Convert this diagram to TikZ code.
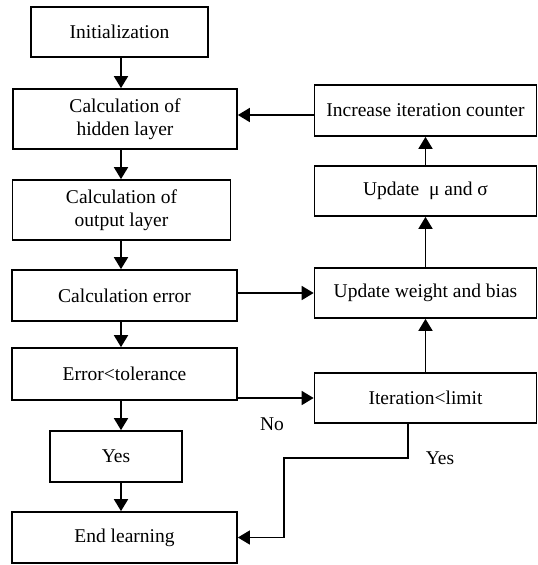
\documentclass[tikz,border=0pt]{standalone}
\usepackage{fontspec}
\setmainfont{Liberation Serif}
\usepackage{tikz}
\usetikzlibrary{arrows.meta,positioning,calc}

\tikzset{
  stepbox/.style={draw, line width=1.7pt, rectangle, align=center, inner sep=2pt},
  arr/.style={line width=1.7pt, -{Triangle[length=12pt,width=14pt]}},
  lbl/.style={inner sep=0pt}
}

\begin{document}
\begin{tikzpicture}[x=1pt,y=-1pt,font=\fontsize{19.5}{23}\selectfont]
  \useasboundingbox (0,0) rectangle (538,565);

  % Left column
  \node[stepbox, minimum width=177pt, minimum height=50pt] (init) at (119.5,32) {Initialization};
  \node[stepbox, minimum width=224pt, minimum height=60pt] (hidden) at (125,119) {Calculation of\\hidden layer};
  \node[stepbox, minimum width=218pt, minimum height=60pt] (output) at (121.5,210) {Calculation of\\output layer};
  \node[stepbox, minimum width=225pt, minimum height=51pt] (calcerr) at (124.5,295.5) {Calculation error};
  \node[stepbox, minimum width=225pt, minimum height=52pt] (errtol) at (124.5,374) {Error<tolerance};
  \node[stepbox, minimum width=132pt, minimum height=51pt] (yes) at (116,456.5) {Yes};
  \node[stepbox, minimum width=225pt, minimum height=51pt] (endlearn) at (124.5,537.5) {End learning};
  \coordinate (colx) at (121,0);

  % Right column
  \node[stepbox, minimum width=222pt, minimum height=51pt] (increase) at (425.5,110.5) {Increase iteration counter};
  \node[stepbox, minimum width=222pt, minimum height=50pt] (updmu) at (425.5,191) {Update~ μ and σ};
  \node[stepbox, minimum width=222pt, minimum height=50pt] (updw) at (425.5,293) {Update weight and bias};
  \node[stepbox, minimum width=222pt, minimum height=50pt] (iter) at (425.5,398) {Iteration<limit};

  % Labels
  \node[lbl] (nolbl) at (272,424) {No};
  \node[lbl] (yeslbl) at (440,458) {Yes};
  \coordinate (bend) at (284,458);

  % Connectors
  \draw[arr] (init.south -| colx) -- (hidden.north -| colx);
  \draw[arr] (hidden.south -| colx) -- (output.north -| colx);
  \draw[arr] (output.south -| colx) -- (calcerr.north -| colx);
  \draw[arr] (calcerr.south -| colx) -- (errtol.north -| colx);
  \draw[arr] (errtol.south -| colx) -- (yes.north -| colx);
  \draw[arr] (yes.south -| colx) -- (endlearn.north -| colx);

  \draw[arr] (calcerr.east |- updw.west) -- (updw.west);
  \draw[arr] (errtol.east |- iter.west) -- (iter.west);
  \draw[arr] (iter) -- (updw);
  \draw[arr] (updw) -- (updmu);
  \draw[arr] (updmu) -- (increase);
  \draw[arr] ([yshift=-4.5pt]increase.west) -- ([yshift=-4.5pt]increase.west -| hidden.east);
  \draw[arr, line width=1.3pt] ([xshift=-17.5pt]iter.south) |- (bend) |- (endlearn.east);
\end{tikzpicture}
\end{document}
